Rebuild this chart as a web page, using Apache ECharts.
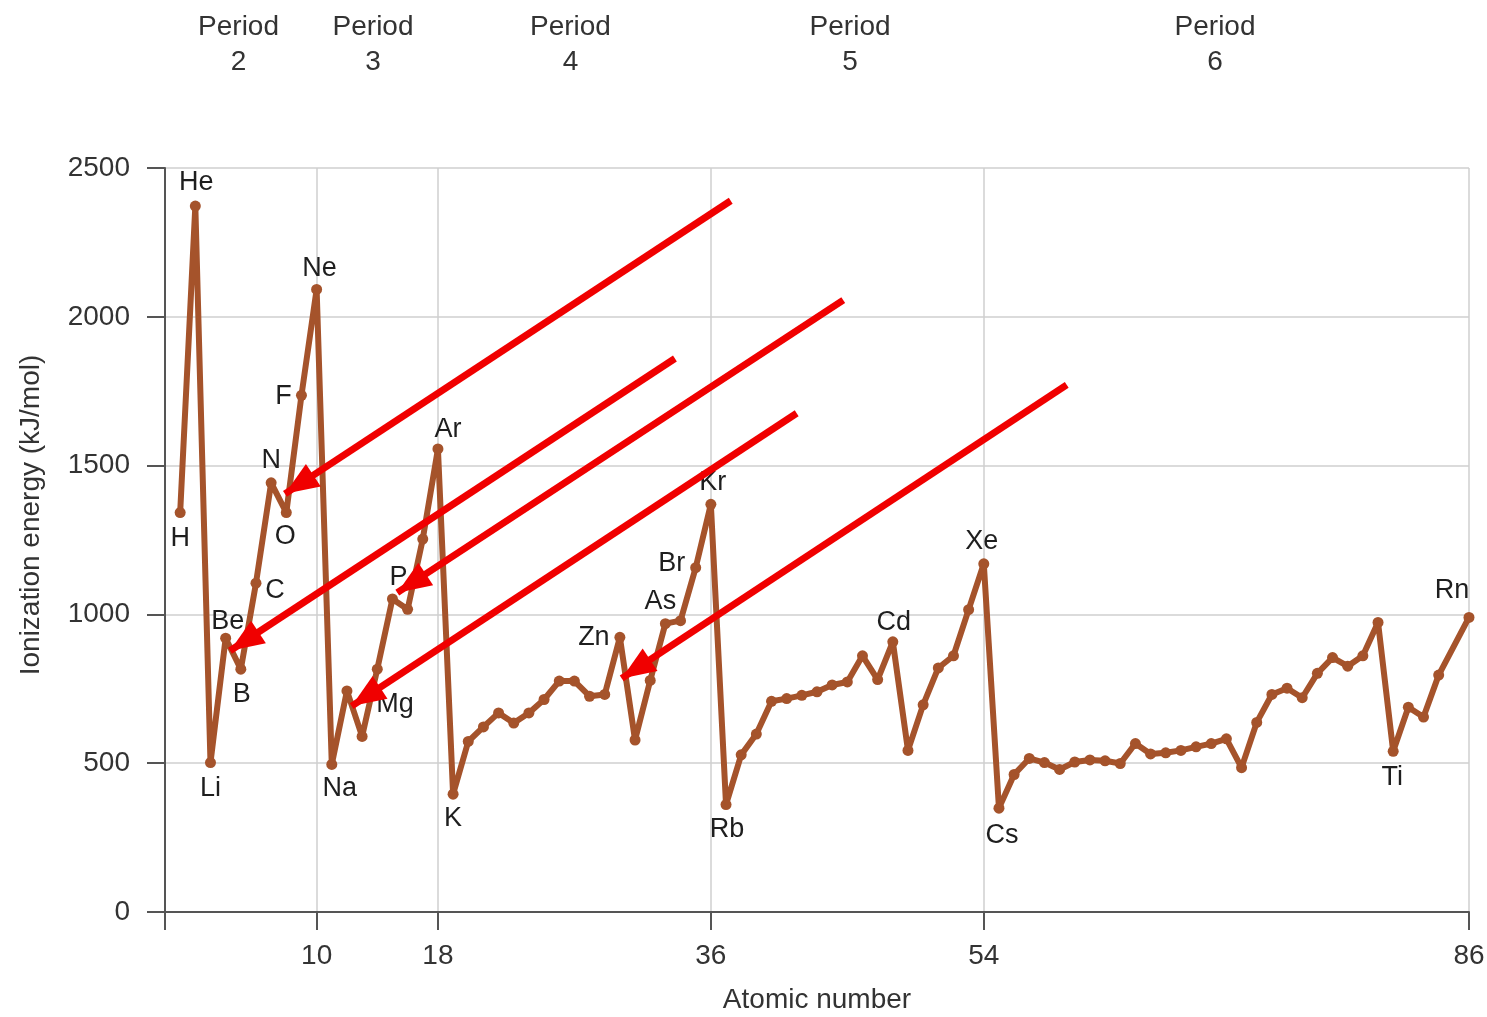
<!DOCTYPE html>
<html>
<head>
<meta charset="utf-8">
<script src="https://cdn.jsdelivr.net/npm/echarts@6/dist/echarts.min.js"></script>
<style>
html,body{margin:0;padding:0;background:#fff;}
#chart{width:1487px;height:1017px;}
</style>
</head>
<body>
<div id="chart"></div>
<script>
// ---- data ----
const atomicNumbers = [1,2,3,4,5,6,7,8,9,10,11,12,13,14,15,16,17,18,19,20,21,22,23,24,25,26,27,28,29,30,31,32,33,34,35,36,37,38,39,40,41,42,43,44,45,46,47,48,49,50,51,52,53,54,55,56,57,58,59,60,61,62,63,64,65,66,67,68,69,70,71,72,73,74,75,76,77,78,79,80,81,82,83,84,86];
const elements = ['H','He','Li','Be','B','C','N','O','F','Ne','Na','Mg','Al','Si','P','S','Cl','Ar','K','Ca','Sc','Ti','V','Cr','Mn','Fe','Co','Ni','Cu','Zn','Ga','Ge','As','Se','Br','Kr','Rb','Sr','Y','Zr','Nb','Mo','Tc','Ru','Rh','Pd','Ag','Cd','In','Sn','Sb','Te','I','Xe','Cs','Ba','La','Ce','Pr','Nd','Pm','Sm','Eu','Gd','Tb','Dy','Ho','Er','Tm','Yb','Lu','Hf','Ta','W','Re','Os','Ir','Pt','Au','Hg','Tl','Pb','Bi','Po','Rn'];
const ionizationEnergy = [1342,2372,502,920,816,1105,1442,1342,1736,2092,496,743,590,816,1052,1017,1253,1556,396,573,622,669,635,669,714,776,776,725,731,923,578,778,969,979,1157,1370,361,528,598,708,717,728,740,763,773,861,781,908,543,696,820,861,1016,1170,349,462,516,502,479,504,511,508,499,566,531,535,543,555,566,582,485,637,731,752,720,802,855,826,861,973,540,688,655,796,990];

const labelAtoms = [1,2,3,4,5,6,7,8,9,10,11,12,15,18,19,30,33,35,36,37,48,54,55,81,86];
const labelTexts = ['H','He','Li','Be','B','C','N','O','F','Ne','Na','Mg','P','Ar','K','Zn','As','Br','Kr','Rb','Cd','Xe','Cs','Ti','Rn'];

const xTickLabels = [10,18,36,54,86];
const xTickMarks = [0,10,18,36,54,86];

const periodNames = ['Period\n2','Period\n3','Period\n4','Period\n5','Period\n6'];
const periodCenters = [4.85,13.72,26.74,45.18,69.25];

const arrowStarts = [[37.31,2390],[33.63,1860],[44.73,2056],[41.66,1676],[59.47,1771]];
const arrowTips   = [[7.91,1405],[4.29,878],[15.32,1073],[12.31,692],[30.12,785]];

// ---- styling (label placement relative to its point) ----
const labelOffset = {
  H:[0,26], He:[1,-24], Li:[0,26], Be:[2,-17], B:[1,25], C:[19,7], N:[0,-22], O:[-1,24],
  F:[-18,1], Ne:[3,-21], Na:[8,24], Mg:[48,14], P:[6,-21], Ar:[10,-19], K:[0,24],
  Zn:[-26,0], As:[-5,-22], Br:[-24,-4], Kr:[2,-22], Rb:[1,25], Cd:[1,-19], Xe:[-2,-22],
  Cs:[3,27], Ti:[-1,26], Rn:[-17,-27]
};

const FONT = "'Liberation Sans', Arial, sans-serif";
const LINE_COLOR = '#a5532b';
const AXIS_COLOR = '#555555';
const GRID_COLOR = '#cfcfcf';

const seriesData = atomicNumbers.map((z, i) => {
  const item = { value: [z, ionizationEnergy[i]], name: elements[i] };
  const li = labelAtoms.indexOf(z);
  if (li >= 0) {
    const t = labelTexts[li];
    item.label = {
      show: true,
      formatter: t,
      position: 'inside',
      offset: labelOffset[t],
      fontSize: 27,
      color: '#1e1e1e',
      fontFamily: FONT
    };
  }
  return item;
});

const arrowData = arrowStarts.map((s, i) => [
  { coord: s, symbol: 'none' },
  { coord: arrowTips[i], symbol: 'triangle', symbolSize: [27, 34], symbolOffset: [0, 17] }
]);

const chart = echarts.init(document.getElementById('chart'), null, { renderer: 'canvas' });
chart.setOption({
  animation: false,
  backgroundColor: '#ffffff',
  grid: { left: 165, right: 18, top: 168, bottom: 105, containLabel: false, outerBoundsMode: 'none' },
  xAxis: [
    {
      type: 'value', min: 0, max: 86, position: 'bottom',
      axisLine: { show: true, lineStyle: { color: AXIS_COLOR, width: 2 } },
      axisTick: { show: true, customValues: xTickMarks, length: 18, lineStyle: { color: AXIS_COLOR, width: 2 } },
      axisLabel: { customValues: xTickLabels, fontSize: 28, color: '#333', margin: 30, fontFamily: FONT },
      splitLine: { show: true, lineStyle: { color: GRID_COLOR, width: 1.5 } },
      name: 'Atomic number', nameLocation: 'middle', nameGap: 74,
      nameTextStyle: { fontSize: 28, color: '#333', fontFamily: FONT }
    },
    {
      type: 'value', min: 0, max: 86, position: 'top',
      axisLine: { show: false }, axisTick: { show: false }, splitLine: { show: false },
      axisLabel: {
        customValues: periodCenters,
        formatter: function (v) {
          let best = 0;
          for (let k = 1; k < periodCenters.length; k++) {
            if (Math.abs(periodCenters[k] - v) < Math.abs(periodCenters[best] - v)) best = k;
          }
          return periodNames[best];
        },
        fontSize: 28, lineHeight: 35, color: '#333', margin: 88, fontFamily: FONT, align: 'center'
      }
    }
  ],
  yAxis: {
    type: 'value', min: 0, max: 2500, interval: 500,
    axisLine: { show: true, lineStyle: { color: AXIS_COLOR, width: 2 } },
    axisTick: { show: true, length: 18, lineStyle: { color: AXIS_COLOR, width: 2 } },
    axisLabel: { fontSize: 28, color: '#333', margin: 35, fontFamily: FONT, formatter: function (v) { return String(v); } },
    splitLine: { show: true, lineStyle: { color: GRID_COLOR, width: 1.5 } },
    name: 'Ionization energy (kJ/mol)', nameLocation: 'middle', nameGap: 120,
    nameTextStyle: { fontSize: 28, color: '#333', fontFamily: FONT, padding: [0, 0, 0, 50] }
  },
  series: [{
    type: 'line',
    data: seriesData,
    symbol: 'circle',
    symbolSize: 11,
    lineStyle: { color: LINE_COLOR, width: 6 },
    itemStyle: { color: LINE_COLOR },
    label: { show: false },
    emphasis: { disabled: true },
    clip: false,
    z: 2,
    markLine: {
      silent: true,
      animation: false,
      symbol: ['none', 'triangle'],
      precision: 4,
      label: { show: false },
      emphasis: { disabled: true },
      lineStyle: { color: '#f00000', width: 7, type: 'solid', opacity: 1 },
      data: arrowData
    }
  }]
});
</script>
</body>
</html>
